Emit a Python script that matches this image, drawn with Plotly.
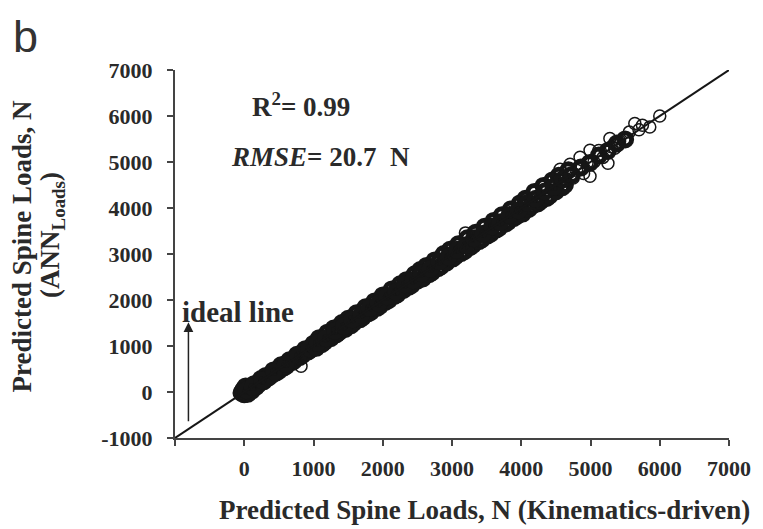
import plotly.graph_objects as go

# ---- data ----
# dense band of points (kinematics-driven vs ANN predicted spine loads, N)
kin_a = [-40, -10, 0, 20, 50, 80, 110, 140, 170, 200, 240, 280, 310, 350, 390, 420, 460, 500, 530, 570,
         610, 650, 690, 720, 760, 800, 840, 880, 920, 960, 1000, -20, 30, 120, 260, 430, 600, 780, 940]
ann_a = [-20, 60, -50, 120, -40, 90, 30, 170, 110, 160, 280, 230, 350, 310, 360, 470, 420, 460, 580, 530,
         570, 690, 650, 680, 810, 760, 800, 930, 880, 920, 1050, 20, 40, 110, 250, 440, 610, 790, 950]

kin_b = [1040, 1080, 1120, 1160, 1200, 1250, 1290, 1330, 1370, 1410, 1460, 1500, 1540, 1580, 1620, 1670,
         1710, 1750, 1790, 1830, 1880, 1920, 1960, 2000, 2040, 2090, 2130, 2170, 2210, 2250, 2300, 2340,
         2380, 2420, 2460, 2500]
ann_b = [960, 1170, 1040, 1090, 1290, 1170, 1380, 1250, 1300, 1500, 1370, 1590, 1450, 1500, 1710, 1580,
         1620, 1840, 1710, 1740, 1970, 1830, 1870, 2100, 1960, 2000, 2230, 2090, 2120, 2340, 2220, 2430,
         2290, 2330, 2560, 2420]

kin_c = [2540, 2580, 2630, 2670, 2710, 2750, 2800, 2840, 2880, 2920, 2970, 3010, 3050, 3090, 3130, 3180,
         3220, 3260, 3300, 3340, 3390, 3430, 3470, 3510, 3560, 3600, 3640, 3680, 3720, 3770, 3810, 3850,
         3890, 3940, 3980]
ann_c = [2650, 2470, 2740, 2560, 2600, 2860, 2690, 2730, 3000, 2810, 3090, 2900, 2950, 3210, 3020, 3060,
         3340, 3150, 3190, 3460, 3280, 3320, 3590, 3400, 3440, 3720, 3530, 3570, 3840, 3660, 3700, 3970,
         3780, 3830, 4100]

kin_d = [4020, 4060, 4110, 4150, 4190, 4240, 4280, 4320, 4370, 4410, 4450, 4500, 4540, 4590, 4630, 4680]
ann_d = [3880, 4200, 3980, 4040, 4350, 4100, 4150, 4480, 4220, 4270, 4600, 4360, 4700, 4450, 4500, 4820]

kin_mid = [1060, 1180, 1310, 1440, 1560, 1690, 1810, 1940, 2060, 2190, 2320, 2440, 2560, 2690, 2820, 2950,
           3070, 3200, 3320, 3450, 3580, 3700, 3830, 3960, 4090, 4210, 4340, 4470, 4600, 4730, 4860, 4990,
           5120, 5250, 5380, 5500]
ann_mid = [1070, 1170, 1330, 1430, 1580, 1680, 1830, 1930, 2080, 2180, 2340, 2430, 2580, 2680, 2840, 2940,
           3090, 3190, 3340, 3440, 3600, 3690, 3850, 3950, 4110, 4200, 4360, 4460, 4620, 4720, 4880, 4980,
           5140, 5240, 5400, 5490]

# sparser points at the top of the range, where single circles are visible
kin_e = [4561, 4705, 4849, 4993, 5280, 5640, 6000, 5856, 5252, 4993, 4750, 4850, 4900, 5050, 5120, 5180,
         5350, 5420, 5500, 5560, 5700, 5750, 4640, 4800, 4950, 5100, 5300, 5400]
ann_e = [4843, 4951, 5103, 5254, 5513, 5838, 6000, 5760, 4973, 4692, 4650, 4900, 4750, 5000, 5250, 5100,
         5300, 5450, 5500, 5650, 5700, 5800, 4620, 4820, 4980, 5120, 5330, 5380]

# isolated points off the band
kin_out = [820, 3194]
ann_out = [560, 3459]

ideal_x = [-1000, 7000]
ideal_y = [-1000, 7000]

tick_vals = [-1000, 0, 1000, 2000, 3000, 4000, 5000, 6000, 7000]
y_tick_text = ["-1000", "0", "1000", "2000", "3000", "4000", "5000", "6000", "7000"]
x_tick_text = ["", "0", "1000", "2000", "3000", "4000", "5000", "6000", "7000"]

band_x = kin_a + kin_b + kin_c + kin_d + kin_mid
band_y = ann_a + ann_b + ann_c + ann_d + ann_mid

SERIF = "Liberation Serif, Times New Roman, serif"
INK = "#2a2a2a"
MARK = "#161616"

fig = go.Figure()
fig.add_trace(go.Scatter(
    x=band_x, y=band_y, mode="markers",
    marker=dict(symbol="circle-open", size=13, color=MARK, line=dict(width=5)),
    showlegend=False, hoverinfo="skip"))
fig.add_trace(go.Scatter(
    x=kin_e + kin_out, y=ann_e + ann_out, mode="markers",
    marker=dict(symbol="circle-open", size=12, color=MARK, line=dict(width=1.5)),
    showlegend=False, hoverinfo="skip"))
fig.add_trace(go.Scatter(
    x=ideal_x, y=ideal_y, mode="lines",
    line=dict(color=MARK, width=2), showlegend=False, hoverinfo="skip"))

axis_common = dict(
    range=[-1000, 7000], tickvals=tick_vals,
    showgrid=False, zeroline=False, showline=True, linecolor="#444", linewidth=2,
    ticks="outside", ticklen=6, tickwidth=2, tickcolor="#444",
    tickfont=dict(family=SERIF, size=22, color=INK, weight="bold"),
    fixedrange=True)

fig.update_xaxes(**axis_common, ticktext=x_tick_text, ticklabelstandoff=4)
fig.update_yaxes(**axis_common, ticktext=y_tick_text, ticklabelstandoff=10)

ann = []
ann.append(dict(text="b", xref="paper", yref="paper", x=-0.296, y=1.166, xanchor="left", yanchor="top",
                showarrow=False, font=dict(family="Liberation Sans, Arial, sans-serif", size=45, color="#333")))
ann.append(dict(text="Predicted Spine Loads, N (Kinematics-driven)", xref="paper", yref="paper",
                x=0.559, y=-0.196, xanchor="center", yanchor="middle", showarrow=False,
                font=dict(family=SERIF, size=27, color=INK, weight="bold")))
ann.append(dict(text="Predicted Spine Loads, N", xref="paper", yref="paper",
                x=-0.277, y=0.522, xanchor="center", yanchor="middle", textangle=-90, showarrow=False,
                font=dict(family=SERIF, size=27, color=INK, weight="bold")))
ann.append(dict(text="(ANN<sub>Loads</sub>)", xref="paper", yref="paper",
                x=-0.222, y=0.552, xanchor="center", yanchor="middle", textangle=-90, showarrow=False,
                font=dict(family=SERIF, size=27, color=INK, weight="bold")))
ann.append(dict(text="R<sup>2</sup>= 0.99", xref="x", yref="y", x=820, y=6249,
                xanchor="center", yanchor="middle", showarrow=False,
                font=dict(family=SERIF, size=27, color=INK, weight="bold")))
ann.append(dict(text="<i>RMSE</i>= 20.7\u00a0\u00a0N", xref="x", yref="y", x=1094, y=5103,
                xanchor="center", yanchor="middle", showarrow=False,
                font=dict(family=SERIF, size=27, color=INK, weight="bold")))
ann.append(dict(text="ideal line", xref="x", yref="y", x=-935, y=1730,
                xanchor="left", yanchor="middle", showarrow=False,
                font=dict(family=SERIF, size=29, color=INK, weight="bold")))
ann.append(dict(text="", xref="x", yref="y", x=-806, y=1514, axref="x", ayref="y", ax=-806, ay=-670,
                showarrow=True, arrowhead=2, arrowsize=1.3, arrowwidth=1.5, arrowcolor="#222"))

# page body has an 8px margin, so the figure is drawn 8px smaller and offset
fig.update_layout(
    width=755, height=521, autosize=False,
    margin=dict(l=167, r=32, t=62, b=91),
    paper_bgcolor="white", plot_bgcolor="white",
    annotations=ann)

fig.write_html("out.html")
